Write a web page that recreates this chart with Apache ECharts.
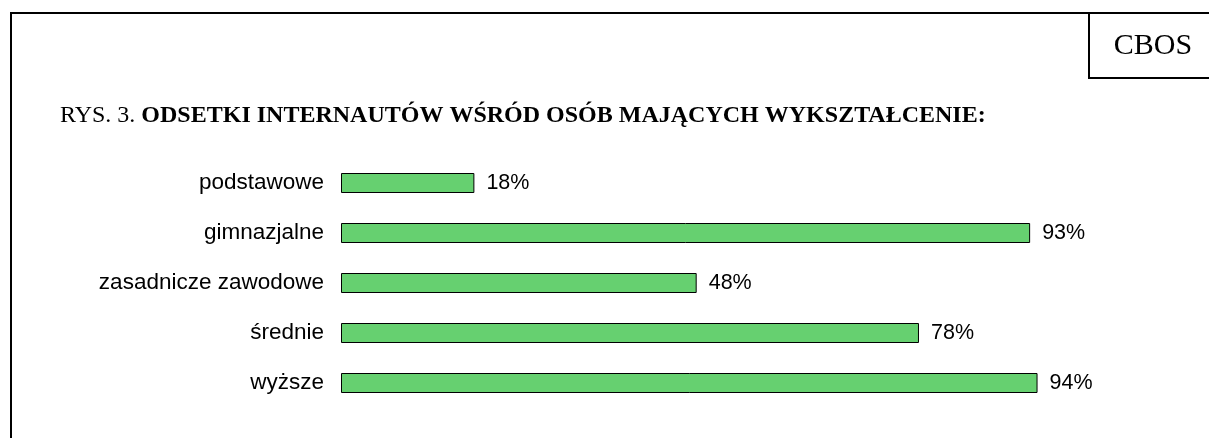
<!DOCTYPE html>
<html>
<head>
<meta charset="utf-8">
<script src="https://cdn.jsdelivr.net/npm/echarts@6/dist/echarts.min.js"></script>
<style>
  html, body { margin: 0; padding: 0; background: #fff; }
  #chart { width: 1209px; height: 438px; }
</style>
</head>
<body>
<div id="chart"></div>
<script>
// dane z wykresu
var categories = ["podstawowe", "gimnazjalne", "zasadnicze zawodowe", "średnie", "wyższe"];
var values = [18, 93, 48, 78, 94];

var chart = echarts.init(document.getElementById("chart"));

var option = {
  animation: false,
  backgroundColor: "#fff",
  title: {
    left: 60,
    top: 104,
    padding: 0,
    text: "{n|RYS. 3. }{b|ODSETKI INTERNAUTÓW WŚRÓD OSÓB MAJĄCYCH WYKSZTAŁCENIE:}",
    textStyle: {
      fontWeight: "normal",
      fontFamily: "Liberation Serif",
      fontSize: 24,
      rich: {
        n: { fontFamily: "Liberation Serif", fontSize: 24, fontWeight: "normal", color: "#000" },
        b: { fontFamily: "Liberation Serif", fontSize: 24, fontWeight: "bold", color: "#000" }
      }
    }
  },
  graphic: [
    // ramka
    {
      type: "rect",
      shape: { x: 11, y: 13, width: 1400, height: 600 },
      style: { fill: "none", stroke: "#000", lineWidth: 2 },
      silent: true
    },
    {
      type: "rect",
      shape: { x: 1089, y: 13, width: 200, height: 65 },
      style: { fill: "none", stroke: "#000", lineWidth: 2 },
      silent: true
    },
    {
      type: "text",
      x: 1153,
      y: 46,
      style: {
        text: "CBOS",
        font: "30px 'Liberation Serif'",
        fill: "#000",
        align: "center",
        verticalAlign: "middle"
      }
    }
  ],
  grid: { left: 341, top: 158, width: 741, height: 250, containLabel: false },
  xAxis: {
    type: "value",
    min: 0,
    max: 100,
    show: false
  },
  yAxis: {
    type: "category",
    data: categories,
    inverse: true,
    axisLine: { show: false },
    axisTick: { show: false },
    axisLabel: {
      margin: 17,
      fontFamily: "Liberation Sans",
      fontSize: 22.5,
      color: "#000"
    }
  },
  series: [
    {
      type: "bar",
      data: values,
      barWidth: 20,
      itemStyle: { color: "#66d070", borderColor: "#000", borderWidth: 1 },
      label: {
        show: true,
        position: "right",
        distance: 12,
        formatter: "{c}%",
        fontFamily: "Liberation Sans",
        fontSize: 21.5,
        color: "#000"
      }
    }
  ]
};

chart.setOption(option);
</script>
</body>
</html>
